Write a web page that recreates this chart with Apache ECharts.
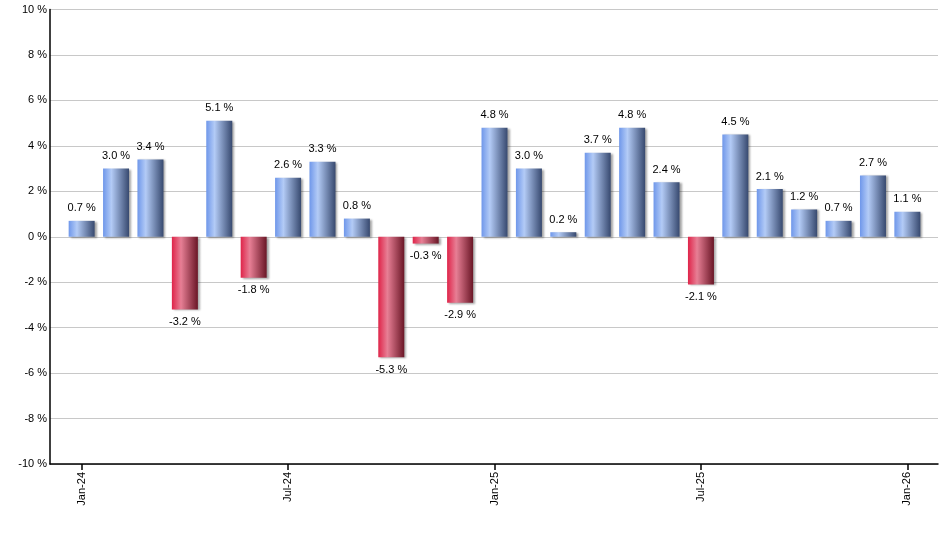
<!DOCTYPE html>
<html>
<head>
<meta charset="utf-8">
<script src="https://cdn.jsdelivr.net/npm/echarts@6/dist/echarts.min.js"></script>
<style>
html,body{margin:0;padding:0;background:#fff;}
#chart{width:940px;height:550px;}
</style>
</head>
<body>
<div id="chart"></div>
<script>
const categories = ['Jan-24','Feb-24','Mar-24','Apr-24','May-24','Jun-24','Jul-24','Aug-24','Sep-24','Oct-24','Nov-24','Dec-24',
  'Jan-25','Feb-25','Mar-25','Apr-25','May-25','Jun-25','Jul-25','Aug-25','Sep-25','Oct-25','Nov-25','Dec-25','Jan-26'];
const values = [0.7, 3.0, 3.4, -3.2, 5.1, -1.8, 2.6, 3.3, 0.8, -5.3, -0.3, -2.9,
  4.8, 3.0, 0.2, 3.7, 4.8, 2.4, -2.1, 4.5, 2.1, 1.2, 0.7, 2.7, 1.1];
const tickLabels = ['Jan-24','Jul-24','Jan-25','Jul-25','Jan-26'];
const yTicks = [-10,-8,-6,-4,-2,0,2,4,6,8,10];

const tickPositions = tickLabels.map(l => categories.indexOf(l));
const FONT = 'Liberation Sans, Arial, sans-serif';

const blueGrad = new echarts.graphic.LinearGradient(0,0,1,0,[
  {offset:0,color:'#6f97ea'},
  {offset:0.32,color:'#b3cbf6'},
  {offset:1,color:'#37496f'}
]);
const redGrad = new echarts.graphic.LinearGradient(0,0,1,0,[
  {offset:0,color:'#df2449'},
  {offset:0.35,color:'#e77f95'},
  {offset:1,color:'#6a1626'}
]);

const data = values.map((v,i) => ({
  value:[i,v],
  itemStyle:{color: v >= 0 ? blueGrad : redGrad},
  label:{position: v >= 0 ? 'top' : 'bottom'}
}));

const chart = echarts.init(document.getElementById('chart'), null, {renderer:'canvas'});
chart.setOption({
  animation:false,
  backgroundColor:'#fff',
  grid:{left:50, right:2, top:9.5, bottom:86, containLabel:false},
  xAxis:{
    type:'value',
    min:-0.92,
    max:24.89,
    splitLine:{show:false},
    axisLine:{show:true, onZero:false, lineStyle:{color:'#000', width:1.5}},
    axisTick:{show:true, length:6, customValues:tickPositions, lineStyle:{color:'#000', width:1.5}},
    axisLabel:{
      customValues:tickPositions,
      rotate:90,
      margin:8,
      color:'#000',
      fontFamily:FONT,
      fontSize:11,
      formatter: v => categories[Math.round(v)] || ''
    }
  },
  yAxis:{
    type:'value',
    min:yTicks[0],
    max:yTicks[yTicks.length-1],
    interval:2,
    axisLine:{show:true, onZero:false, lineStyle:{color:'#000', width:1.5}},
    axisTick:{show:false},
    splitLine:{show:true, lineStyle:{color:'#c8c8c8', width:1}},
    axisLabel:{
      color:'#000',
      margin:3,
      fontFamily:FONT,
      fontSize:11,
      formatter: v => v + ' %'
    }
  },
  series:[{
    type:'bar',
    barWidth:26,
    data:data,
    itemStyle:{
      shadowColor:'rgba(0,0,0,0.35)',
      shadowBlur:2,
      shadowOffsetX:2,
      shadowOffsetY:1
    },
    label:{
      show:true,
      distance:7,
      color:'#000',
      fontFamily:FONT,
      fontSize:11,
      formatter: p => p.value[1].toFixed(1) + ' %'
    }
  }]
});
</script>
</body>
</html>
